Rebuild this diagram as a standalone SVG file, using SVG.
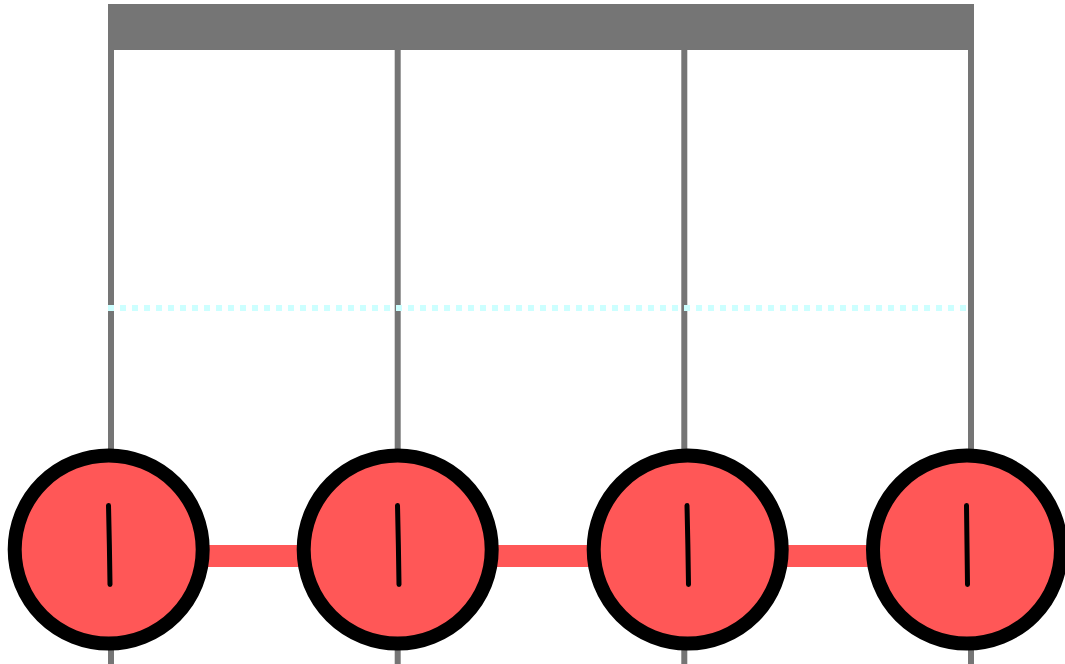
<svg xmlns="http://www.w3.org/2000/svg" width="1065" height="664" viewBox="0 0 1065 664">
<style>
.rail{stroke:#757575;stroke-width:6;fill:none}
.link{fill:#FF5757}
.node{fill:#FF5757;stroke:#000;stroke-width:14}
.mark{stroke:#000;stroke-width:5;stroke-linecap:round;fill:none}
.dot{stroke:#CCFFFF;stroke-width:6;stroke-dasharray:6 6;fill:none}
</style>
<rect x="0" y="0" width="1065" height="664" fill="#fff"/>
<g id="frame">
<rect x="108" y="4" width="866" height="46" fill="#757575"/>
<line class="rail" x1="111" y1="48" x2="111" y2="664"/>
<line class="rail" x1="397.7" y1="48" x2="397.7" y2="664"/>
<line class="rail" x1="684.3" y1="48" x2="684.3" y2="664"/>
<line class="rail" x1="971" y1="48" x2="971" y2="664"/>
<line class="dot" x1="108" y1="308" x2="966" y2="308"/>
</g>
<g id="connectors">
<rect class="link" x="200" y="545" width="110" height="22"/>
<rect class="link" x="490" y="545" width="110" height="22"/>
<rect class="link" x="780" y="545" width="100" height="22"/>
</g>
<g id="node1">
<circle class="node" cx="108.7" cy="549.5" r="94"/>
<path class="mark" d="M108.5 505.5 Q109.5 545 110 584.5"/>
</g>
<g id="node2">
<circle class="node" cx="397.7" cy="549.5" r="94"/>
<path class="mark" d="M397.5 505.5 Q398.5 545 399 584.5"/>
</g>
<g id="node3">
<circle class="node" cx="687.7" cy="549.5" r="94"/>
<path class="mark" d="M687 505.5 Q688 545 688.5 584.5"/>
</g>
<g id="node4">
<circle class="node" cx="967" cy="549.5" r="94"/>
<path class="mark" d="M966.5 505.5 Q967 545 967.5 584.5"/>
</g>
</svg>
